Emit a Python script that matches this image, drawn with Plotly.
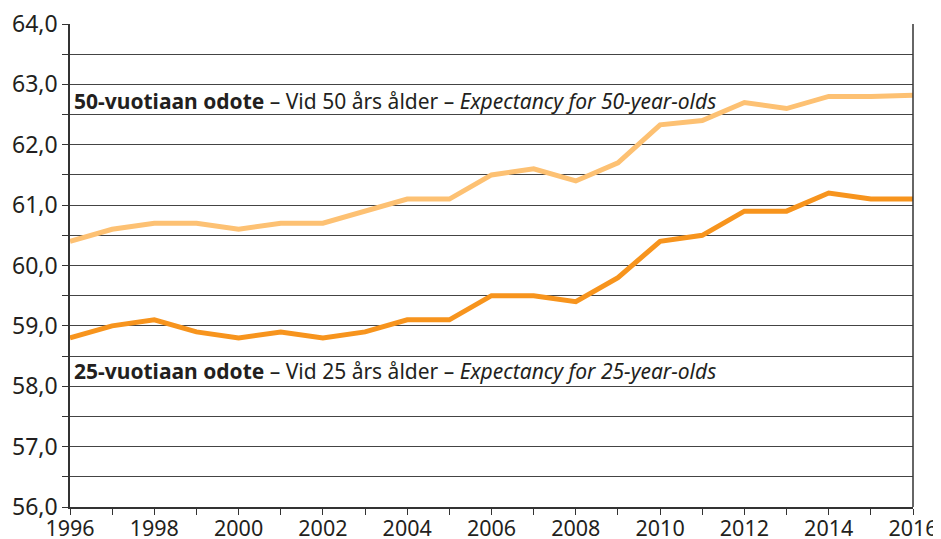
import plotly.graph_objects as go

years = list(range(1996, 2017))
age50 = [60.4, 60.6, 60.7, 60.7, 60.6, 60.7, 60.7, 60.9, 61.1, 61.1, 61.5,
         61.6, 61.4, 61.7, 62.33, 62.4, 62.7, 62.6, 62.8, 62.8, 62.82]
age25 = [58.8, 59.0, 59.1, 58.9, 58.8, 58.9, 58.8, 58.9, 59.1, 59.1, 59.5,
         59.5, 59.4, 59.8, 60.4, 60.5, 60.9, 60.9, 61.2, 61.1, 61.1]

y_tickvals = [56 + 0.5 * i for i in range(17)]
y_ticktext = [f"{v:.1f}".replace(".", ",") if v == int(v) else "" for v in y_tickvals]
x_ticktext = [str(y) if y % 2 == 0 else "" for y in years]

FONT = "Noto Sans"
TXT = "#231f20"

fig = go.Figure()
fig.add_trace(go.Scatter(x=years, y=age50, mode="lines",
                         line=dict(color="#fdc173", width=5), showlegend=False))
fig.add_trace(go.Scatter(x=years, y=age25, mode="lines",
                         line=dict(color="#f7941d", width=5), showlegend=False))

fig.add_annotation(x=0, xref="paper", y=62.72, yref="y", xanchor="left", yanchor="middle",
                   xshift=2, showarrow=False,
                   text="<b>50-vuotiaan odote</b> – Vid 50 års ålder – <i>Expectancy for 50-year-olds</i>",
                   font=dict(family=FONT, size=21, color=TXT))
fig.add_annotation(x=0, xref="paper", y=58.26, yref="y", xanchor="left", yanchor="middle",
                   xshift=2, showarrow=False,
                   text="<b>25-vuotiaan odote</b> – Vid 25 års ålder – <i>Expectancy for 25-year-olds</i>",
                   font=dict(family=FONT, size=21, color=TXT))

fig.update_layout(
    width=933, height=531,
    margin=dict(l=62, r=28, t=16, b=32, autoexpand=False),
    paper_bgcolor="white", plot_bgcolor="white",
    font=dict(family=FONT, size=23, color=TXT),
    xaxis=dict(range=[1996, 2016], tickvals=years, ticktext=x_ticktext,
               ticks="outside", ticklen=6, tickcolor="#333", tickwidth=1,
               showgrid=False, zeroline=False, showline=True, linecolor="#333",
               linewidth=1.5, mirror=False, automargin=False,
               ticklabeloverflow="allow", ticklabelstandoff=-5,
               tickfont=dict(family=FONT, size=21.5, color=TXT)),
    yaxis=dict(range=[56, 64], tickvals=y_tickvals, ticktext=y_ticktext,
               ticks="outside", ticklen=6, tickcolor="#333", tickwidth=1,
               showgrid=True, gridcolor="#444", gridwidth=1,
               zeroline=False, showline=True, linecolor="#333", linewidth=1.5,
               mirror=False, automargin=False, ticklabeloverflow="allow",
               tickfont=dict(family=FONT, size=23, color=TXT)),
)
# right border of plot area
fig.add_shape(type="line", xref="paper", yref="paper", x0=1, x1=1, y0=0, y1=1,
              line=dict(color="#333", width=1.5))

fig.write_html("out.html")
